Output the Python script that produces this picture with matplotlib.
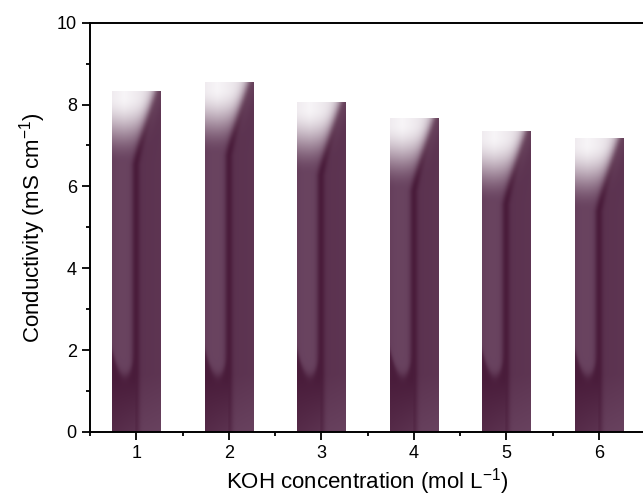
import matplotlib
matplotlib.use("Agg")
import matplotlib.pyplot as plt
import numpy as np

plt.rcParams["font.family"] = ["Liberation Sans", "DejaVu Sans"]
plt.rcParams["mathtext.fontset"] = "custom"
plt.rcParams["mathtext.rm"] = "Liberation Sans"

koh_conc = [1, 2, 3, 4, 5, 6]
conductivity = [8.31, 8.53, 8.05, 7.67, 7.35, 7.17]

BAR_W = 0.52
LIGHT = np.array([0.45, 0.31, 0.42])
DARK = np.array([0.28, 0.10, 0.22])
WHITE = np.array([0.97, 0.96, 0.97])


def sig(z):
    return 1 / (1 + np.exp(-z))


def smooth(a, b, z):
    s = np.clip((z - a) / (b - a), 0, 1)
    return s * s * (3 - 2 * s)


def bar_image(height, nx=80, ny=500):
    # glossy Origin-like fill; rows run from the top of the bar down to 0
    u = np.linspace(0, 1, nx)[None, :]
    y = np.linspace(height, 0, ny)[:, None]
    depth = height - y

    # dark band slides from the right edge to the middle near the top
    c = 0.48 + 0.45 * np.clip(1 - depth / 1.8, 0, 1) ** 1.2
    du = u - c
    base = 0.22 + 0.33 * sig(du / 0.04) + 0.08 * sig((0.06 - u) / 0.03)
    t = base + 0.55 * np.exp(-(du / 0.085) ** 2) - 0.12 * np.clip(u - c, 0, 1)

    # lower part: the light stripe ends with a rounded foot, dark pool below
    yb = 1.38 + 0.5 * ((u - 0.26) / 0.24) ** 2
    m = sig((y - yb) / 0.07)
    tb = 0.95 - 0.5 * np.clip(1 - y / 1.3, 0, 1) * (0.55 + 0.6 * u)
    tb = np.where(u > c, t - 0.25 * np.clip(1 - y / 1.4, 0, 1), tb)
    left = u < c + 0.05
    t = np.where(left, t * m + tb * (1 - m), tb)
    t = np.clip(t, 0, 1)

    rgb = LIGHT * (1 - t[..., None]) + DARK * t[..., None]

    # white highlight at the top left, fading smoothly downward
    w = 1 - smooth(0.15, 1.75, depth)
    w = w * sig((c - 0.05 - u) / 0.07) * (1 - 0.2 * np.abs(u - 0.25))
    w = np.clip(w, 0, 1)[..., None]
    rgb = rgb * (1 - w) + WHITE * w
    return np.clip(rgb, 0, 1)


fig = plt.figure(figsize=(6.43, 4.99), dpi=100)
ax = fig.add_axes([90 / 643, 67 / 499, 555 / 643, 409.3 / 499])

for x, h in zip(koh_conc, conductivity):
    ax.imshow(bar_image(h), extent=[x - BAR_W / 2, x + BAR_W / 2, 0, h],
              aspect="auto", interpolation="bilinear", zorder=2)

ax.set_xlim(0.5, 6.5)
ax.set_ylim(0, 10)
ax.set_xticks(koh_conc)
ax.set_xticks(np.arange(0.5, 6.6, 1.0), minor=True)
ax.set_yticks([0, 2, 4, 6, 8, 10])
ax.set_yticks([1, 3, 5, 7, 9], minor=True)

for sp in ax.spines.values():
    sp.set_linewidth(1.4)
ax.tick_params(which="major", direction="out", length=6, width=1.3, labelsize=13,
               top=False, right=False)
ax.tick_params(which="minor", direction="out", length=3, width=1.3, top=False, right=False)

ax.set_xlabel("KOH concentration (mol L$^{\\mathregular{-1}}$)", fontsize=16, labelpad=3)
ax.set_ylabel("Conductivity (mS cm$^{\\mathregular{-1}}$)", fontsize=16, labelpad=6)

fig.savefig("out.png", dpi=100)
